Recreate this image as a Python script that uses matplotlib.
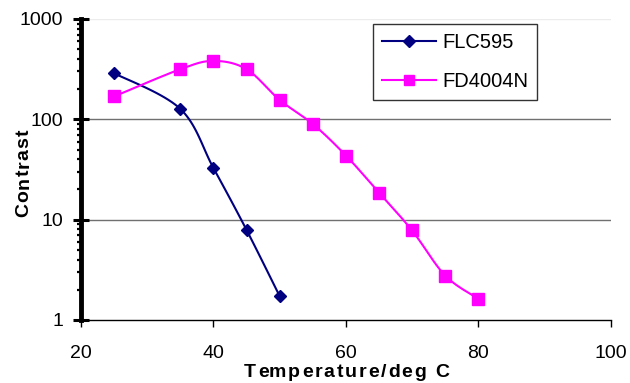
import numpy as np
import matplotlib
matplotlib.use('Agg')
from matplotlib import pyplot as plt
from matplotlib.ticker import LogLocator, NullFormatter, FixedLocator
from matplotlib.font_manager import FontProperties

plt.rcParams['font.family'] = ['Liberation Sans', 'DejaVu Sans']

# data
flc_temp = [25, 35, 40, 45, 50]
flc_contrast = [288, 127, 32.7, 7.9, 1.73]
fd_temp = [25, 35, 40, 45, 50, 55, 60, 65, 70, 75, 80]
fd_contrast = [169, 316, 382, 316, 156, 90, 43.6, 18.6, 7.8, 2.77, 1.63]

x_ticks = [20, 40, 60, 80, 100]
y_ticks = [1, 10, 100, 1000]

W, H = 630, 383


def smooth(xs, ys, n=20):
    # Catmull-Rom through the points, done in (roughly) screen space
    sx = 530.0 / 80.0
    sy = 100.5
    px = np.array(xs, float) * sx
    py = np.log10(np.array(ys, float)) * sy
    P = np.column_stack([px, py])
    P = np.vstack([P[0], P, P[-1]])
    out = []
    for i in range(1, len(P) - 2):
        p0, p1, p2, p3 = P[i - 1], P[i], P[i + 1], P[i + 2]
        for t in np.linspace(0, 1, n, endpoint=False):
            t2 = t * t
            t3 = t2 * t
            pt = 0.5 * ((2 * p1) + (-p0 + p2) * t +
                        (2 * p0 - 5 * p1 + 4 * p2 - p3) * t2 +
                        (-p0 + 3 * p1 - 3 * p2 + p3) * t3)
            out.append(pt)
    out.append(P[-2])
    out = np.array(out)
    return out[:, 0] / sx, 10 ** (out[:, 1] / sy)


def spaced_text(fig, s, cx, cy, extra, size, vertical=False):
    # draw s letter by letter with some extra tracking, centred on cx/cy (pixels)
    fp = FontProperties(family='Liberation Sans', weight='bold', size=size)
    r = fig.canvas.get_renderer()

    def width(t):
        return r.get_text_width_height_descent(t, fp, ismath=False)[0]

    hw = width('H')
    pos = [0.0] + [width(s[:i] + 'H') - hw for i in range(1, len(s))]
    total = width(s) + extra * (len(s) - 1)
    start = -total / 2.0
    for i, ch in enumerate(s):
        if ch == ' ':
            continue
        off = start + pos[i] + extra * i
        if vertical:
            fig.text(cx / W, (cy + off) / H, ch, fontproperties=fp, rotation=90,
                     rotation_mode='anchor', ha='left', va='baseline')
        else:
            fig.text((cx + off) / W, cy / H, ch, fontproperties=fp,
                     ha='left', va='baseline')


fig = plt.figure(figsize=(6.3, 3.83), dpi=100)
ax = fig.add_axes([0.1286, 0.1645, 0.8408, 0.7859])

ax.set_yscale('log')
ax.set_xlim(20, 100)
ax.set_ylim(1, 1000)

# grid lines
ax.axhline(10, color='#707070', lw=1.0, zorder=1)
ax.axhline(100, color='#707070', lw=1.0, zorder=1)
ax.axhline(1000, color='#ececec', lw=1.0, zorder=1)

navy = '#000080'
magenta = '#ff00ff'

sx, sy = smooth(flc_temp, flc_contrast)
ax.plot(sx, sy, color=navy, lw=1.5, zorder=3)
ax.plot(flc_temp, flc_contrast, ls='none', marker='D', ms=6, color=navy, zorder=4)
sx, sy = smooth(fd_temp, fd_contrast)
ax.plot(sx, sy, color=magenta, lw=1.5, zorder=3)
ax.plot(fd_temp, fd_contrast, ls='none', marker='s', ms=8, color=magenta, zorder=4)

# legend proxies
h1, = ax.plot([], [], color=navy, lw=1.5, marker='D', ms=6, label='FLC595')
h2, = ax.plot([], [], color=magenta, lw=1.5, marker='s', ms=7.5, label='FD4004N')
leg = ax.legend(handles=[h1, h2], loc='upper left', bbox_to_anchor=(0.551, 0.983),
                fontsize=14.5, frameon=True, fancybox=False, handlelength=2.7,
                labelspacing=1.0, borderpad=0.45, handletextpad=0.3,
                borderaxespad=0)
leg.get_frame().set_edgecolor('black')
leg.get_frame().set_linewidth(1.0)

for s in ['top', 'right']:
    ax.spines[s].set_visible(False)
ax.spines['left'].set_linewidth(3.5)
ax.spines['bottom'].set_linewidth(1.0)

ax.yaxis.set_major_locator(FixedLocator(y_ticks))
ax.set_yticklabels([str(v) for v in y_ticks])
ax.yaxis.set_minor_locator(LogLocator(base=10, subs=np.arange(2, 10)))
ax.yaxis.set_minor_formatter(NullFormatter())
ax.tick_params(axis='y', which='major', direction='inout', length=11, width=2.2,
               labelsize=14, pad=7.5)
ax.tick_params(axis='y', which='minor', direction='out', length=3, width=1.6)

ax.set_xticks(x_ticks)
ax.set_xticklabels([str(v) for v in x_ticks])
ax.tick_params(axis='x', which='major', direction='out', length=5, width=1.0,
               labelsize=14, pad=13)

# axis titles, tracked out like the original
spaced_text(fig, 'Temperature/deg C', 346.5, 6, 1.8, 14)
spaced_text(fig, 'Contrast', 28.5, H - 173, 1.0, 14, vertical=True)

fig.savefig('out.png', dpi=100)
